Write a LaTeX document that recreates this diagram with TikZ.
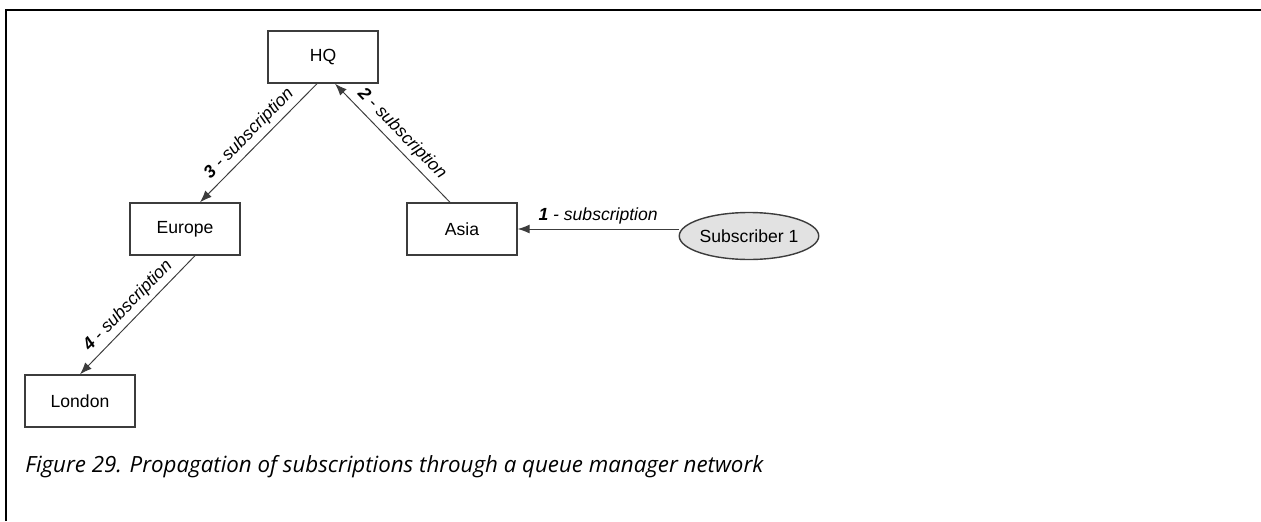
\documentclass[tikz,border=0pt]{standalone}
\usepackage{fontspec}
\setmainfont{Liberation Sans}
\newfontfamily\capfont{Open Sans}
\usepackage{tikz}
\usetikzlibrary{arrows.meta,positioning,shapes.geometric}
\usepackage{xcolor}
\definecolor{qmline}{RGB}{60,60,60}
\definecolor{subfill}{RGB}{226,226,226}

\begin{document}
\begin{tikzpicture}[x=0.02cm, y=-0.02cm,
  qmgr/.style={rectangle,draw=qmline,line width=0.8pt,minimum width=2.2cm,minimum height=1.04cm,inner sep=0pt,font=\fontsize{10}{12}\selectfont},
  flow/.style={draw=qmline,line width=0.55pt,-{Latex[length=2.4mm,width=1.8mm]}},
  lbl/.style={sloped,above,midway,inner sep=2.5pt,font=\fontsize{10}{12}\selectfont\itshape}]
  \useasboundingbox (0,0) rectangle (1261,521);
  \draw[line width=1.7pt] (6,521) -- (6,10) -- (1261,10);

  \node[qmgr] (hq)     at (323,57)  {HQ};
  \node[qmgr] (europe) at (185,229) {Europe};
  \node[qmgr] (asia)   at (462,229) {Asia};
  \node[qmgr] (london) at (80,401)  {London};
  \node[ellipse,draw=qmline,fill=subfill,line width=0.8pt,minimum width=2.56cm,minimum height=0.94cm,inner sep=0pt,font=\fontsize{10}{12}\selectfont] (sub1) at (749,236) {Subscriber 1};

  \draw[flow] (sub1.west |- asia.east) -- node[lbl]{\textbf{1} - subscription} (asia.east);
  \draw[flow] ([xshift=-0.24cm]asia.north) -- node[lbl]{\textbf{2} - subscription} ([xshift=0.24cm]hq.south);
  \draw[flow] ([xshift=-0.12cm]hq.south) -- node[lbl]{\textbf{3} - subscription} ([xshift=0.3cm]europe.north);
  \draw[flow] ([xshift=0.2cm]europe.south) -- node[lbl]{\textbf{4} - subscription} (london.north);

  \node[anchor=base west,inner sep=0pt,font=\capfont\fontsize{12.7}{14}\selectfont\itshape] (caption) at (25,472)
    {Figure 29. Propagation of subscriptions through a queue manager network};
\end{tikzpicture}
\end{document}
